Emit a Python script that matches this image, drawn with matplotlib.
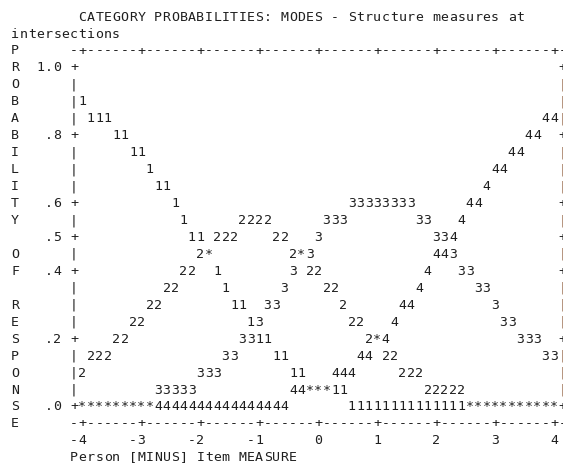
import matplotlib
matplotlib.use("Agg")
import matplotlib.pyplot as plt

# ---- chart content -------------------------------------------------------
TITLE = "CATEGORY PROBABILITIES: MODES - Structure measures at"
TITLE_WRAP = "intersections"
Y_NAME = "PROBABILITY OF RESPONSE"
Y_TICK_VALUES = [1.0, 0.8, 0.6, 0.5, 0.4, 0.2, 0.0]
Y_TICK_LABELS = ["1.0", ".8", ".6", ".5", ".4", ".2", ".0"]
X_TICK_VALUES = [-4, -3, -2, -1, 0, 1, 2, 3, 4]
X_TICK_LABELS = ["-4", "-3", "-2", "-1", "0", "1", "2", "3", "4"]
X_LABEL = "Person [MINUS] Item MEASURE"

# Category curves 1-4, one text row per .05 of probability (1.0 at the top,
# .0 at the bottom); '*' marks overlapping categories, '.' an empty cell.
CURVE_ROWS = [
    ".........." ".........." ".........." ".........." ".........." ".......",
    ".........." ".........." ".........." ".........." ".........." ".......",
    "1........." ".........." ".........." ".........." ".........." ".......",
    ".111......" ".........." ".........." ".........." ".........." ".....44",
    "....11...." ".........." ".........." ".........." ".........." "...44..",
    "......11.." ".........." ".........." ".........." ".........." ".44....",
    "........1." ".........." ".........." ".........." ".........4" "4......",
    ".........1" "1........." ".........." ".........." "........4." ".......",
    ".........." ".1........" ".........." "..33333333" "......44.." ".......",
    ".........." "..1......2" "222......3" "33........" "33...4...." ".......",
    ".........." "...11.222." "...22...3." ".........." "..334....." ".......",
    ".........." "....2*...." ".....2*3.." ".........." "..443....." ".......",
    ".........." "..22..1..." ".....3.22." ".........." ".4...33..." ".......",
    ".........." "22.....1.." "....3....2" "2........." "4......33." ".......",
    "........22" "........11" "..33......" ".2......44" ".........3" ".......",
    "......22.." ".........." "13........" "..22...4.." ".........." "33.....",
    "....22...." ".........3" "311......." "....2*4..." ".........." "..333..",
    ".222......" ".......33." "...11....." "...44.22.." ".........." ".....33",
    "2........." "....333..." ".....11..." "444.....22" "2........." ".......",
    ".........3" "3333......" ".....44***" "11........" ".22222...." ".......",
    "*********4" "4444444444" "44444....." "..11111111" "111111****" "*******",
]

# ---- character grid ------------------------------------------------------
W, H = 563, 465
CW, LH = 8.42, 16.95          # cell width / line height in pixels
X0, Y0 = 10.85, 16.0          # left edge of column 0, centre of line 0
BASE = 4.6 / LH               # baseline offset below the glyph centre
FONT = "DejaVu Sans Mono"
SIZE = 9.5
INK = "#1f1f1f"
EDGE_INK = "#8c5a38"

AXIS_COL = 7                  # column of the left probability axis
PLOT_COL = 8                  # first column of the plotting area
COLS_PER_UNIT = 7
P_STEP = 0.05
PLOT_LINE = 2                 # text line holding the top axis

fig = plt.figure(figsize=(W / 100, H / 100), dpi=100)
fig.patch.set_facecolor("white")
ax = fig.add_axes([0, 0, 1, 1])
ax.axis("off")
ax.set_xlim(-X0 / CW, (W - X0) / CW)
ax.set_ylim((H - Y0) / LH, -Y0 / LH)


def put(line, col, text, color=INK):
    for k, ch in enumerate(text):
        if ch in " .":
            continue
        ax.text(col + k + 0.5, line + BASE, ch, ha="center", va="baseline",
                family=FONT, fontsize=SIZE, color=color)


def put_label(line, col, text, color=INK):
    # free text: every character, dots included
    for k, ch in enumerate(text):
        if ch == " ":
            continue
        ax.text(col + k + 0.5, line + BASE, ch, ha="center", va="baseline",
                family=FONT, fontsize=SIZE, color=color)


tick_cols = [PLOT_COL + COLS_PER_UNIT * (v - X_TICK_VALUES[0]) for v in X_TICK_VALUES]
right_col = tick_cols[-1] + 1
n_rows = round(1.0 / P_STEP) + 1
tick_rows = {1 + round((1.0 - v) / P_STEP): lab
             for v, lab in zip(Y_TICK_VALUES, Y_TICK_LABELS)}
bottom_row = n_rows + 1

# title (wrapped onto a second line)
put_label(0, 8, TITLE)
put_label(1, 0, TITLE_WRAP)

# vertical axis name
for r, ch in enumerate(Y_NAME):
    put_label(PLOT_LINE + r, 0, ch)

# top and bottom axis lines
axis_line = "".join("+" if c in tick_cols else "-"
                    for c in range(AXIS_COL, right_col + 1))
for r in (0, bottom_row):
    put_label(PLOT_LINE + r, AXIS_COL, axis_line)

# side axes and probability labels
for r in range(1, bottom_row):
    if r in tick_rows:
        lab = tick_rows[r]
        put_label(PLOT_LINE + r, AXIS_COL - 1 - len(lab), lab)
        put_label(PLOT_LINE + r, AXIS_COL, "+")
        put_label(PLOT_LINE + r, right_col, "+")
    else:
        put_label(PLOT_LINE + r, AXIS_COL, "|")
        put_label(PLOT_LINE + r, right_col, "|", EDGE_INK)

# category curves
for i, row in enumerate(CURVE_ROWS):
    put(PLOT_LINE + 1 + i, PLOT_COL, row)

# measure tick labels and axis title
for c, lab in zip(tick_cols, X_TICK_LABELS):
    put_label(PLOT_LINE + bottom_row + 1, c - len(lab) + 1, lab)
put_label(PLOT_LINE + bottom_row + 2, AXIS_COL, X_LABEL)

fig.savefig("out.png", dpi=100, facecolor="white")
